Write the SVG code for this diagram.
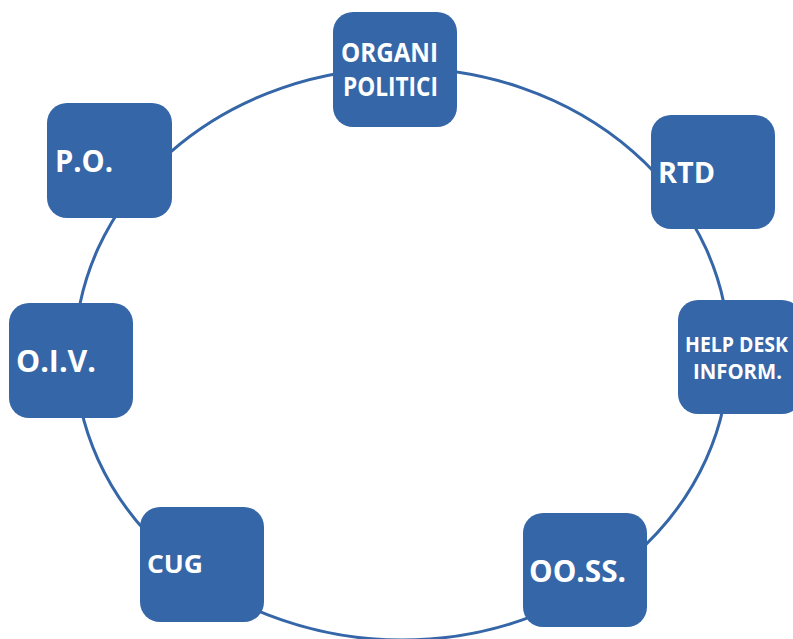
<svg xmlns="http://www.w3.org/2000/svg" width="793" height="639" viewBox="0 0 793 639">
<style>
.box{fill:#3566a8}
.t{fill:#ffffff;font-family:"Open Sans","Liberation Sans",sans-serif;font-weight:bold}
.ring{fill:none;stroke:#3566a8;stroke-width:3}
</style>
<rect width="793" height="639" fill="#ffffff"/>
<g id="connectors">
<ellipse class="ring" cx="402" cy="354" rx="327" ry="286"/>
</g>
<g id="organi">
<rect class="box" x="333" y="12" width="124" height="115" rx="20"/>
<text class="t" x="341" y="62" font-size="26.5" textLength="97" lengthAdjust="spacingAndGlyphs">ORGANI</text>
<text class="t" x="343" y="96" font-size="26.5" textLength="95" lengthAdjust="spacingAndGlyphs">POLITICI</text>
</g>
<g id="po">
<rect class="box" x="47" y="103" width="125" height="115" rx="20"/>
<text class="t" x="55" y="172" font-size="29.5" textLength="58" lengthAdjust="spacingAndGlyphs">P.O.</text>
</g>
<g id="rtd">
<rect class="box" x="651" y="115" width="124" height="114" rx="20"/>
<text class="t" x="658" y="183" font-size="28" textLength="57" lengthAdjust="spacingAndGlyphs">RTD</text>
</g>
<g id="oiv">
<rect class="box" x="9" y="303" width="124" height="115" rx="20"/>
<text class="t" x="16" y="372" font-size="29.5" textLength="80" lengthAdjust="spacingAndGlyphs">O.I.V.</text>
</g>
<g id="helpdesk">
<rect class="box" x="678" y="300" width="124" height="114" rx="20"/>
<text class="t" x="685" y="352" font-size="21" textLength="103" lengthAdjust="spacingAndGlyphs">HELP DESK</text>
<text class="t" x="693" y="379" font-size="21" textLength="89" lengthAdjust="spacingAndGlyphs">INFORM.</text>
</g>
<g id="cug">
<rect class="box" x="140" y="507" width="124" height="115" rx="20"/>
<text class="t" x="147" y="573" font-size="25.5" textLength="56" lengthAdjust="spacingAndGlyphs">CUG</text>
</g>
<g id="ooss">
<rect class="box" x="523" y="513" width="124" height="114" rx="20"/>
<text class="t" x="529" y="582" font-size="31" textLength="97" lengthAdjust="spacingAndGlyphs">OO.SS.</text>
</g>
</svg>
